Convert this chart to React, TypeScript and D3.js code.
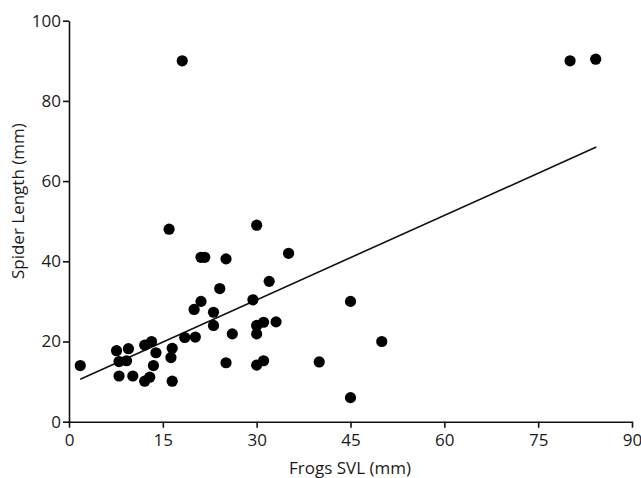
import React, { useRef, useEffect } from "react";
import * as d3 from "d3";

// frog snout-vent length (mm)
const frogSVL = [
  1.8, 7.6, 8.0, 9.2, 9.5, 8.0, 10.2, 12.1, 13.2, 13.9, 13.5, 12.1, 12.9,
  16.5, 16.3, 16.5, 18.5, 20.2, 20.0, 21.1, 23.1, 23.1, 26.1, 25.1, 29.4,
  30.0, 31.1, 33.1, 30.0, 30.0, 31.1, 16.0, 30.0, 21.1, 21.7, 25.1, 35.1,
  32.0, 24.1, 18.1, 80.1, 84.2, 40.0, 45.0, 50.0, 45.0,
];
// spider length (mm)
const spiderLen = [
  14.0, 17.7, 15.0, 15.2, 18.2, 11.4, 11.4, 19.1, 20.0, 17.2, 14.0, 10.1, 11.1,
  18.3, 16.0, 10.1, 21.0, 21.1, 28.0, 30.0, 27.3, 24.0, 21.9, 14.7, 30.4,
  24.0, 24.8, 24.9, 21.9, 14.1, 15.2, 48.0, 49.0, 41.0, 41.0, 40.6, 42.0,
  35.0, 33.2, 90.0, 90.0, 90.4, 14.9, 30.0, 20.0, 6.0,
];
// fitted line end points
const fitX = [1.8, 84.3];
const fitY = [10.6, 68.5];

const xTicks = [0, 15, 30, 45, 60, 75, 90];
const yTicks = [0, 20, 40, 60, 80, 100];

const W = 641;
const H = 478;
const FONT = "'Open Sans', sans-serif";

function Scatter() {
  const svgRef = useRef<SVGSVGElement>(null);

  useEffect(() => {
    const svg = d3.select(svgRef.current);
    svg.selectAll("*").remove();

    const x = d3.scaleLinear().domain([0, 90]).range([69, 632]);
    const y = d3.scaleLinear().domain([0, 100]).range([421.7, 20.7]);

    // axes
    const xAxis = d3.axisBottom(x).tickValues(xTicks).tickSize(6).tickSizeOuter(0);
    const gx = svg.append("g").attr("transform", `translate(0,${y(0)})`).call(xAxis);
    const yAxis = d3.axisLeft(y).tickValues(yTicks).tickSize(6).tickSizeOuter(0);
    const gy = svg.append("g").attr("transform", `translate(${x(0)},0)`).call(yAxis);

    [gx, gy].forEach((g) => {
      g.selectAll("path, line").attr("stroke", "#111").attr("stroke-width", 1.6);
      g.selectAll("text")
        .attr("fill", "#1a1a1a")
        .style("font-family", FONT)
        .style("font-size", "17px");
    });
    gx.selectAll("text").attr("dy", "0.95em").attr("y", 8);
    gy.selectAll("text").attr("x", -8);

    // titles
    svg.append("text")
      .attr("x", 350)
      .attr("y", 474)
      .attr("text-anchor", "middle")
      .attr("fill", "#1a1a1a")
      .style("font-family", FONT)
      .style("font-size", "17px")
      .text("Frogs SVL (mm)");

    svg.append("text")
      .attr("transform", `translate(24,${y(55)}) rotate(-90)`)
      .attr("text-anchor", "middle")
      .attr("fill", "#1a1a1a")
      .style("font-family", FONT)
      .style("font-size", "17px")
      .text("Spider Length (mm)");

    // regression line
    const ln = d3.line<number>()
      .x((d) => x(d))
      .y((d, i) => y(fitY[i]));
    svg.append("path")
      .attr("d", ln(fitX))
      .attr("fill", "none")
      .attr("stroke", "#111")
      .attr("stroke-width", 1.6);

    // dots
    svg.selectAll(".dot")
      .data(frogSVL)
      .join("circle")
      .attr("class", "dot")
      .attr("cx", (d) => x(d))
      .attr("cy", (d, i) => y(spiderLen[i]))
      .attr("r", 5.6)
      .attr("fill", "#000");
  }, []);

  return <svg ref={svgRef} width={W} height={H} style={{ position: "absolute", left: 0, top: 0, background: "#fff" }} />;
}

export default function App() {
  return <Scatter />;
}
